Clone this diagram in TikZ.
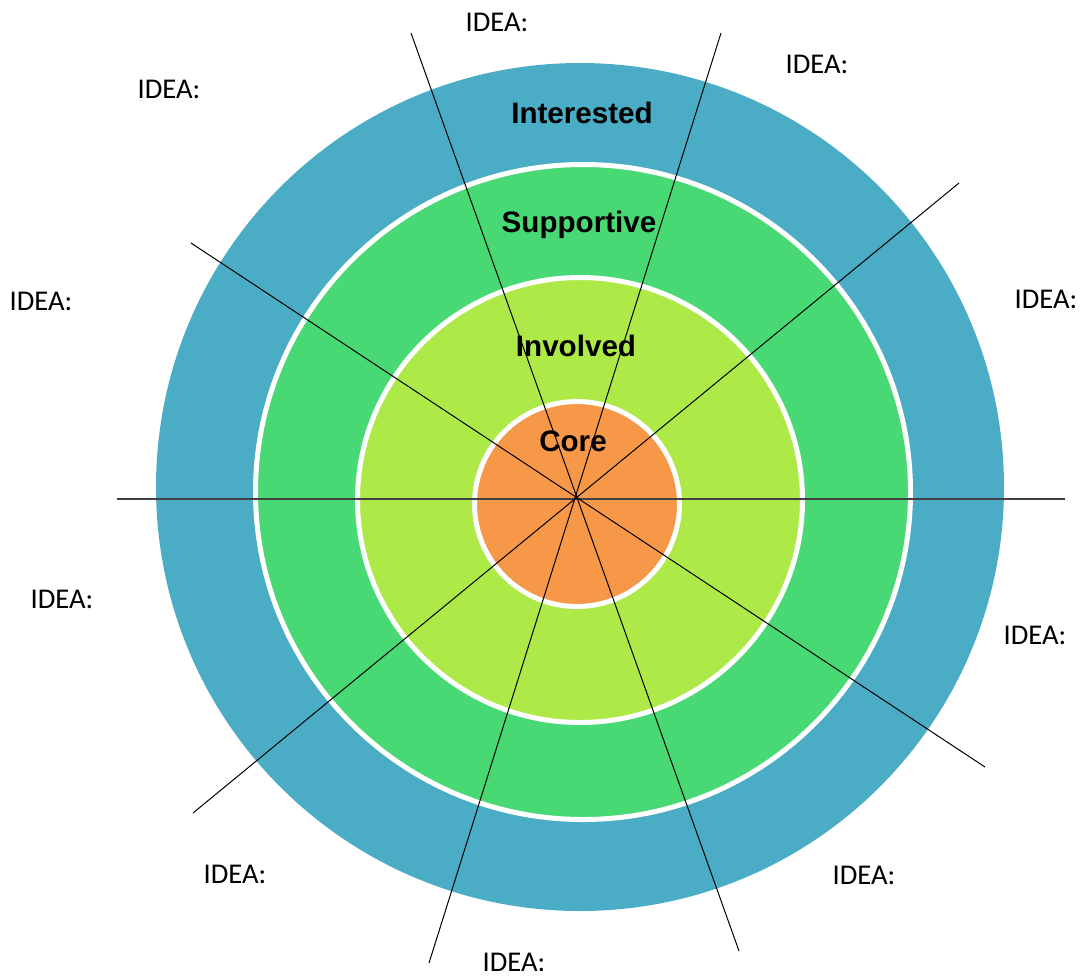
\documentclass[tikz,border=0pt]{standalone}
\usepackage{fontspec}
\setmainfont{Carlito}
\newfontfamily\ringfont{Liberation Sans}
\usepackage{tikz}
\definecolor{interested}{HTML}{4BACC6}
\definecolor{supportive}{HTML}{48D975}
\definecolor{involved}{HTML}{ADEA48}
\definecolor{core}{HTML}{F79848}

\begin{document}
\begin{tikzpicture}[x=0.5pt,y=-0.5pt,
  band/.style={draw=white,line width=2.5pt},
  spoke/.style={black,line width=0.5pt},
  axis/.style={black!75,line width=0.75pt},
  ring/.style={anchor=base,inner sep=0pt,font=\ringfont\bfseries\fontsize{14.8}{17}\selectfont},
  idea/.style={anchor=base,inner sep=0pt,font=\fontsize{14.3}{16}\selectfont}]
  \useasboundingbox (0,0) rectangle (1081,976);
  \fill[interested] (580,487) circle (424);
  \draw[band,fill=supportive] (583,492) circle (327.5);
  \draw[band,fill=involved] (580,500) circle (222.5);
  \draw[band,fill=core] (577,504) circle (102.5);

  \coordinate (h1) at (117,499);
  \coordinate (h2) at (1065,499);
  \coordinate (a1) at (411,33);
  \coordinate (a2) at (739,951);
  \coordinate (b1) at (721,33);
  \coordinate (b2) at (429,963);
  \coordinate (c1) at (191,243);
  \coordinate (c2) at (985,767);
  \coordinate (d1) at (959,183);
  \coordinate (d2) at (193,813);
  \draw[axis] (h1) -- (h2);
  \draw[spoke] (a1) -- (a2);
  \draw[spoke] (b1) -- (b2);
  \draw[spoke] (c1) -- (c2);
  \draw[spoke] (d1) -- (d2);

  \node[ring] (int) at (582,123) {Interested};
  \node[ring] (sup) at (579,232) {Supportive};
  \node[ring] (inv) at (576,356) {Involved};
  \node[ring] (cor) at (573,451) {Core};

  \node[idea] (i1) at (497,31) {IDEA:};
  \node[idea] (i2) at (817,73) {IDEA:};
  \node[idea] (i3) at (169,98) {IDEA:};
  \node[idea] (i4) at (41,310) {IDEA:};
  \node[idea] (i5) at (1046,308) {IDEA:};
  \node[idea] (i6) at (62,608) {IDEA:};
  \node[idea] (i7) at (1035,644) {IDEA:};
  \node[idea] (i8) at (235,883) {IDEA:};
  \node[idea] (i9) at (864,884) {IDEA:};
  \node[idea] (i10) at (514,971) {IDEA:};
\end{tikzpicture}
\end{document}
